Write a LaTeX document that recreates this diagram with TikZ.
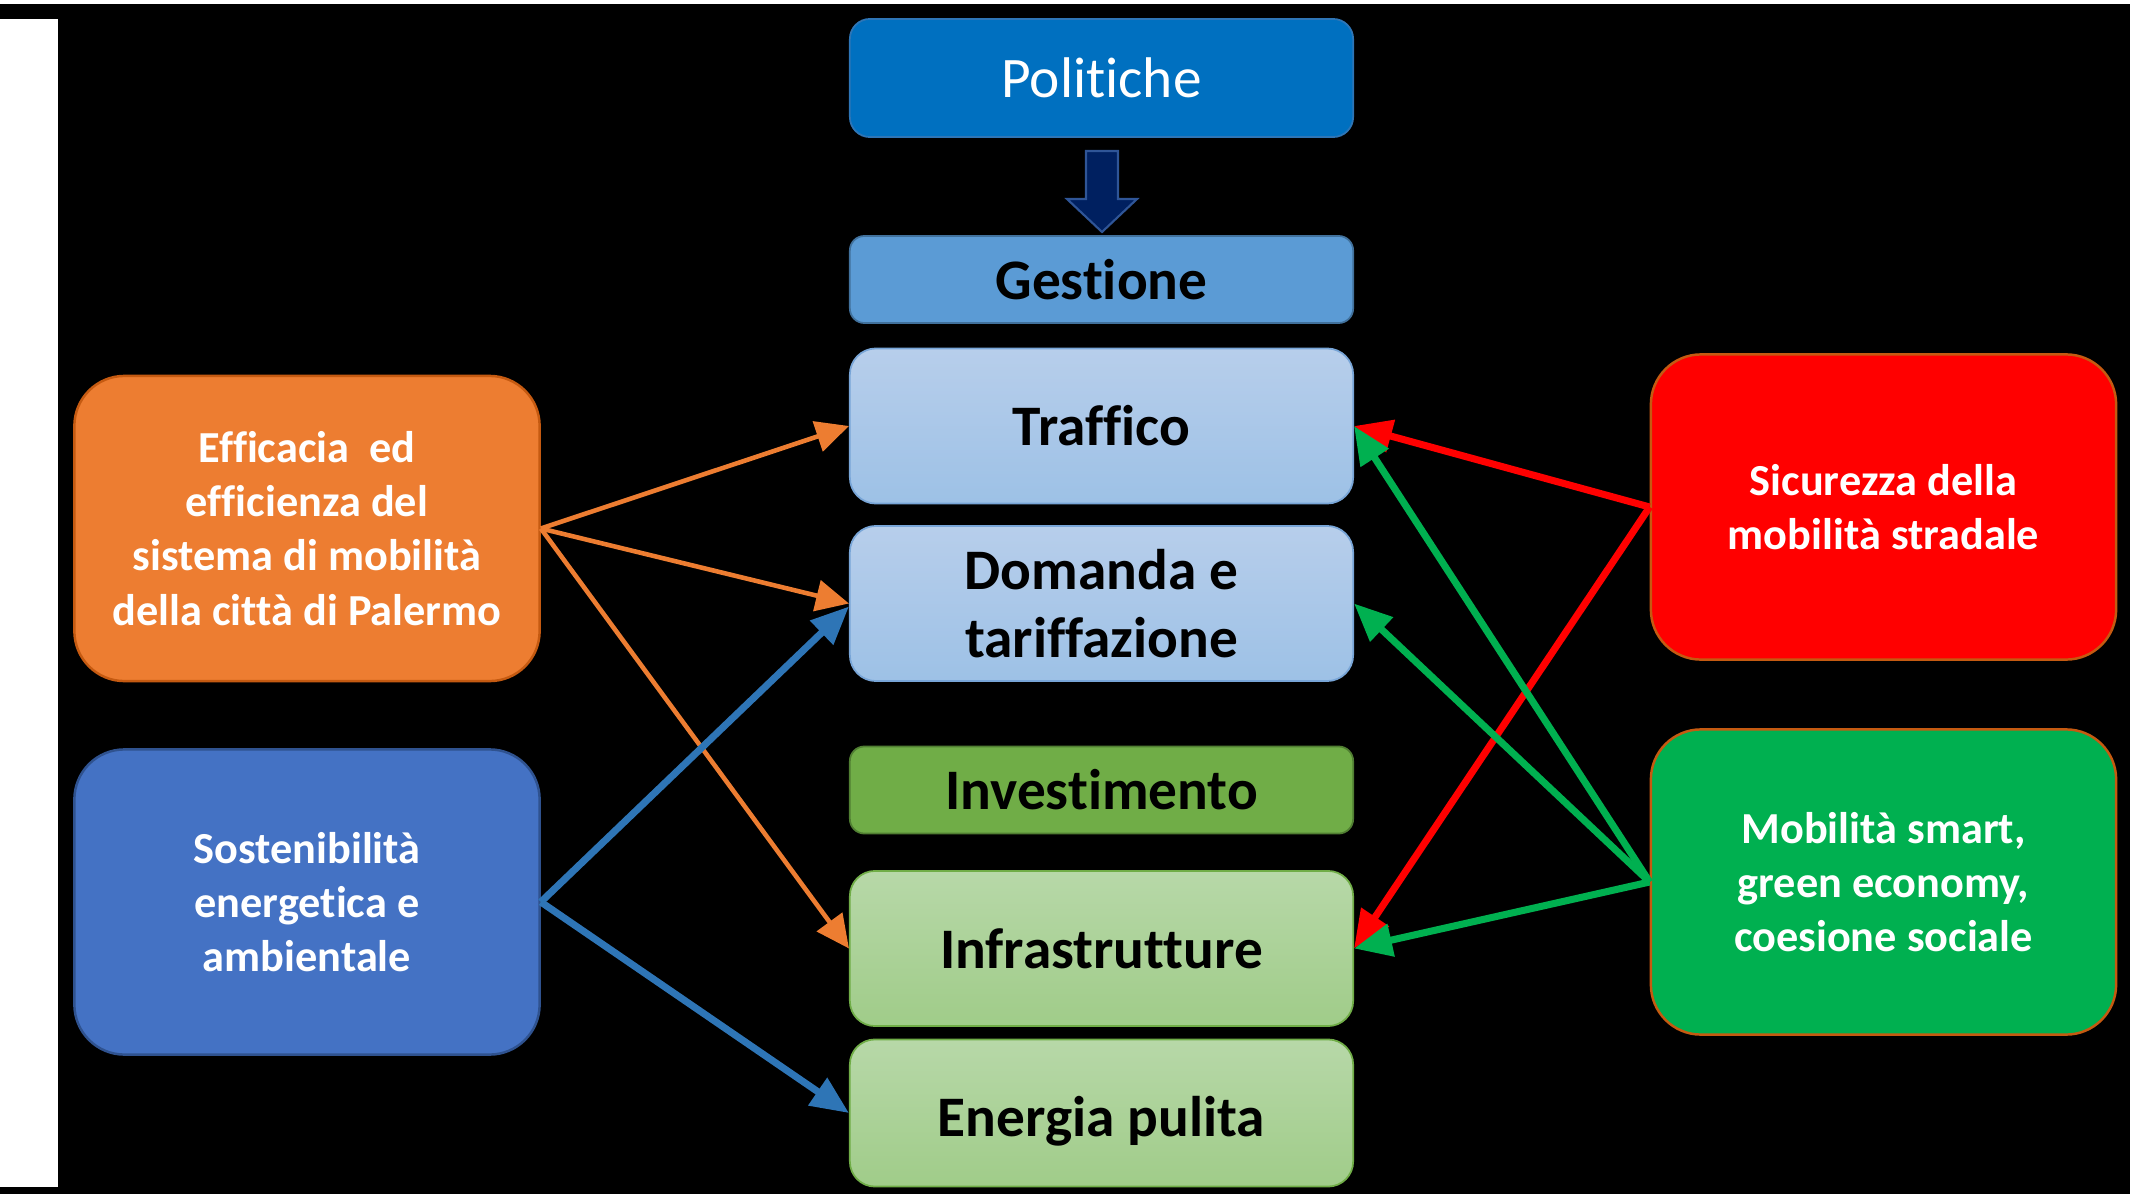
\documentclass[tikz,border=0pt]{standalone}
\usepackage{fontspec}
\setmainfont{Carlito}[Ligatures={NoCommon}]
\usetikzlibrary{arrows.meta}
\definecolor{polc}{RGB}{0,112,192}
\definecolor{polb}{RGB}{46,117,182}
\definecolor{darr}{RGB}{0,32,96}
\definecolor{darrb}{RGB}{47,85,151}
\definecolor{gesc}{RGB}{91,155,213}
\definecolor{gesb}{RGB}{65,113,156}
\definecolor{lbtop}{RGB}{183,206,235}
\definecolor{lbbot}{RGB}{157,193,230}
\definecolor{lbb}{RGB}{120,165,215}
\definecolor{invc}{RGB}{112,173,71}
\definecolor{invb}{RGB}{80,126,50}
\definecolor{lgtop}{RGB}{183,216,168}
\definecolor{lgbot}{RGB}{160,204,137}
\definecolor{lgb}{RGB}{112,173,71}
\definecolor{orc}{RGB}{237,125,49}
\definecolor{orb}{RGB}{197,90,17}
\definecolor{blc}{RGB}{68,114,196}
\definecolor{blb}{RGB}{47,82,143}
\definecolor{rdc}{RGB}{255,0,0}
\definecolor{grc}{RGB}{0,176,80}
\definecolor{arrblue}{RGB}{46,117,182}
\begin{document}
\begin{tikzpicture}[x=0.01cm,y=-0.01cm,
  cbox/.style={draw, line width=0.5pt, align=center, inner sep=0pt,
    minimum width=5.03cm, font=\fontsize{16.3pt}{19.5pt}\selectfont\bfseries},
  lbluebox/.style={cbox, draw=lbb, top color=lbtop, bottom color=lbbot,
    minimum height=1.55cm, rounded corners=0.26cm},
  lgreenbox/.style={cbox, draw=lgb, top color=lgtop, bottom color=lgbot,
    rounded corners=0.25cm},
  sbox/.style={draw, line width=0.7pt, align=center, inner sep=0pt,
    minimum width=4.65cm, minimum height=3.05cm, rounded corners=0.5cm,
    text=white, font=\fontsize{12.6pt}{15.4pt}\selectfont\bfseries},
  thinarr/.style={draw=orc, line width=1.3pt,
    -{Triangle[length=0.33cm,width=0.31cm]}},
  thickarr/.style={line width=2pt,
    -{Triangle[length=0.38cm,width=0.32cm]}}
]
\useasboundingbox (0,0) rectangle (2130,1194);
% background
\fill[white] (0,0) rectangle (2130,1194);
\fill[black] (0,4) rectangle (2130,1194);
\fill[white] (0,19) rectangle (58,1187);

% centre column
\node[cbox, fill=polc, draw=polb, text=white, rounded corners=0.2cm,
  minimum height=1.18cm, font=\fontsize{16.3pt}{19.5pt}\selectfont]
  (pol) at (1101.5,78) {Politiche};
\fill[darr, draw=darrb, line width=0.6pt]
  (1086,151) -- (1118,151) -- (1118,199) -- (1137,199) -- (1102,232)
  -- (1067,199) -- (1086,199) -- cycle;
\node[cbox, fill=gesc, draw=gesb, rounded corners=0.145cm,
  minimum height=0.87cm] (ges) at (1101.5,279.5) {Gestione};
\node[lbluebox] (traf) at (1101.5,426) {Traffico};
\node[lbluebox] (dom) at (1101.5,603.5) {Domanda e\\tariffazione};
\node[cbox, fill=invc, draw=invb, rounded corners=0.145cm,
  minimum height=0.87cm] (inv) at (1101.5,790) {Investimento};
\node[lgreenbox, minimum height=1.55cm] (infra) at (1101.5,948.5) {Infrastrutture};
\node[lgreenbox, minimum height=1.47cm] (ener) at (1101.5,1113)
  {\raisebox{-0.08cm}[\height][\depth]{Energia pulita}};

% side boxes
\node[sbox, fill=orc, draw=orb] (eff) at (307,528.5)
  {Efficacia\ \ ed\\efficienza del\\sistema di mobilità\\della città di Palermo};
\node[sbox, fill=blc, draw=blb] (sost) at (307,902)
  {Sostenibilità\\energetica e\\ambientale};
\node[sbox, fill=rdc, draw=orb] (sic) at (1883.5,507)
  {Sicurezza della\\mobilità stradale};
\node[sbox, fill=grc, draw=orb] (mob) at (1883.5,882)
  {Mobilità smart,\\green economy,\\coesione sociale};

% connectors
\draw[thinarr] (eff.east) -- (traf.west);
\draw[thinarr] (eff.east) -- (dom.west);
\draw[thinarr] (eff.east) -- (infra.west);
\draw[thickarr, draw=arrblue] (sost.east) -- ([yshift=-0.03cm]dom.west);
\draw[thickarr, draw=arrblue] (sost.east) -- (ener.west);
\draw[thickarr, draw=rdc] (sic.west) -- (traf.east);
\draw[thickarr, draw=rdc] (sic.west) -- (infra.east);
\draw[thickarr, draw=grc] (mob.west) -- (traf.east);
\draw[thickarr, draw=grc] (mob.west) -- (dom.east);
\draw[thickarr, draw=grc] (mob.west) -- (infra.east);
\end{tikzpicture}
\end{document}
